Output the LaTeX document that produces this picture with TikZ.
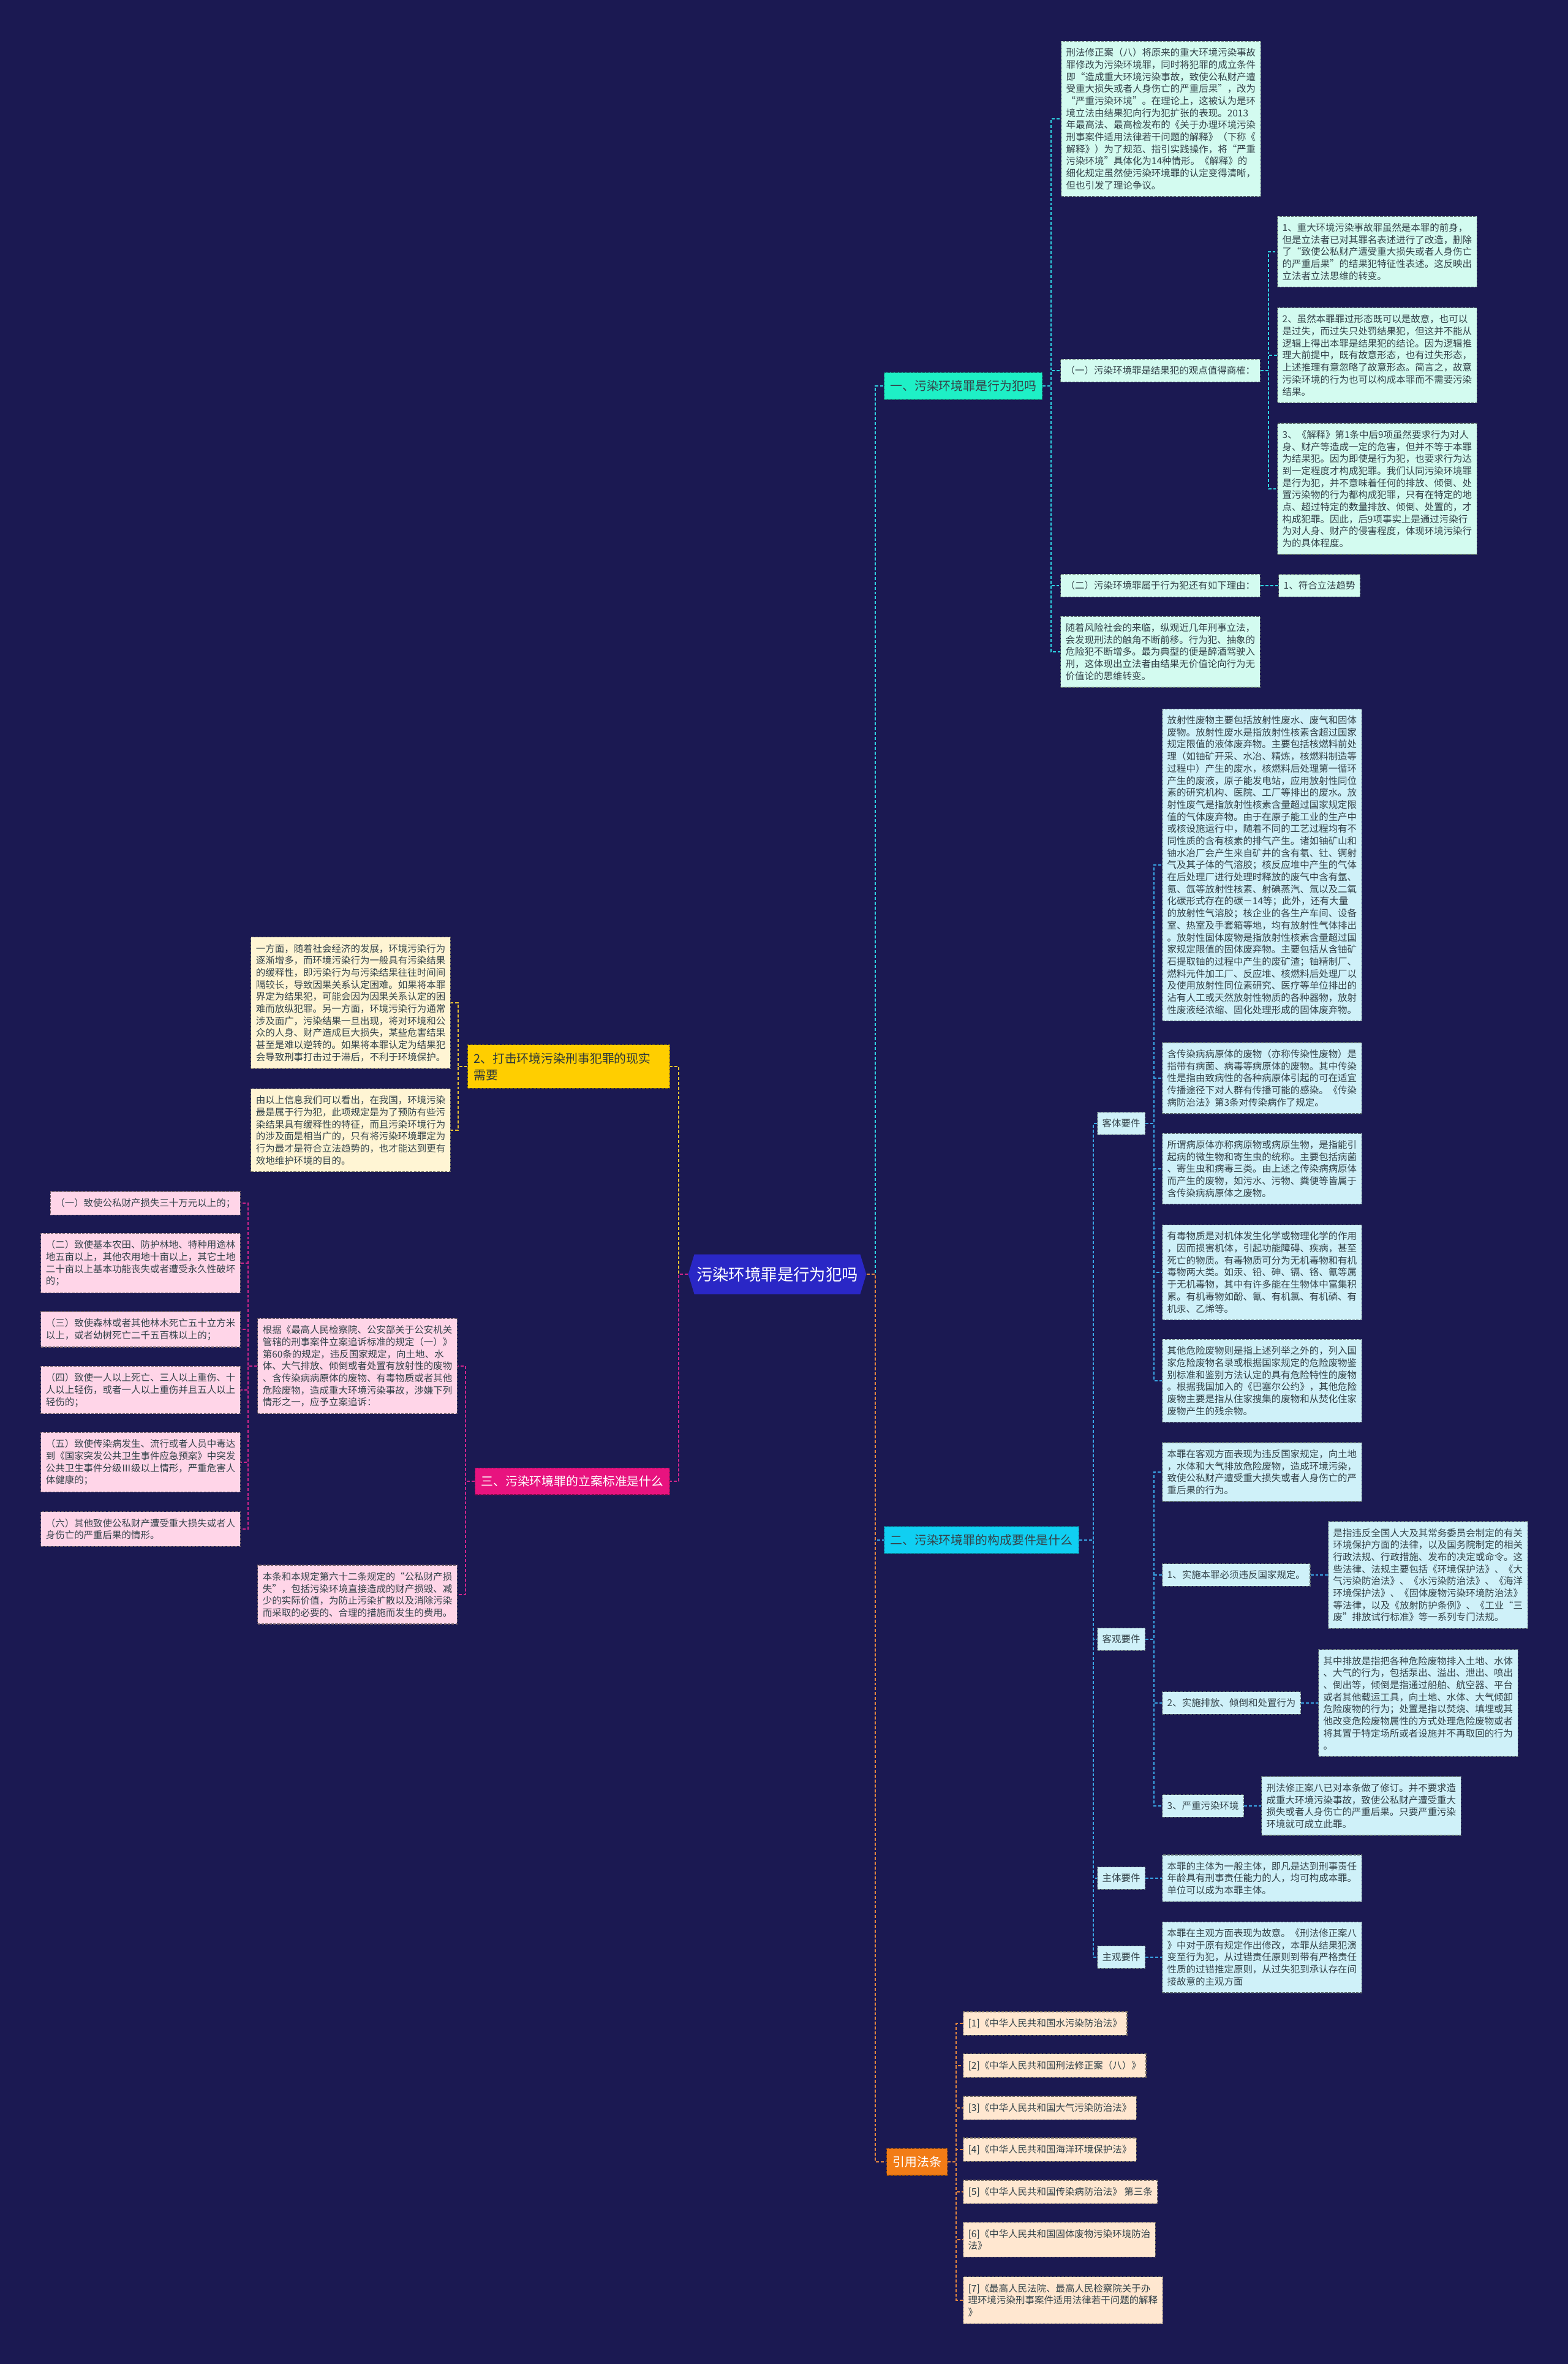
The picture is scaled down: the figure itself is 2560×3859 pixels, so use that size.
\documentclass[tikz,border=0pt]{standalone}
\usepackage{fontspec}
\setmainfont{Noto Sans CJK SC}
\usetikzlibrary{backgrounds,calc,positioning,shapes.symbols}
\definecolor{navy}{HTML}{1B1952}
\definecolor{ink}{HTML}{34434A}
\definecolor{rootblue}{HTML}{2A27C6}
\definecolor{onecolor}{HTML}{1EF0C6}
\definecolor{twocolor}{HTML}{10CFF2}
\definecolor{needcolor}{HTML}{FFCE00}
\definecolor{threecolor}{HTML}{E8137F}
\definecolor{refcolor}{HTML}{F27C16}
\definecolor{mint}{HTML}{D3FBF0}
\definecolor{icy}{HTML}{CFF1F9}
\definecolor{cream}{HTML}{FFF5D4}
\definecolor{blush}{HTML}{FFD5E8}
\definecolor{peach}{HTML}{FFE7D0}
\definecolor{lineone}{HTML}{2FD3E2}
\definecolor{linetwo}{HTML}{3AA6E6}
\definecolor{lineneed}{HTML}{EEC431}
\definecolor{linethree}{HTML}{D0258C}
\definecolor{lineref}{HTML}{E6873E}
\newcommand{\bodyfont}{\fontsize{4.4pt}{5.6pt}\selectfont}
\newcommand{\headfont}{\fontsize{5.65pt}{7.6pt}\selectfont}
\newcommand{\rootfont}{\fontsize{7.5pt}{9pt}\selectfont}
\tikzset{
  box/.style={
    draw,
    dash pattern=on 1.2pt off 0.6pt,
    line width=0.35pt,
    align=left,
    text=ink,
    inner xsep=2.3pt,
    inner ysep=3.2pt,
    font=\bodyfont
  },
  mintbox/.style={box,fill=mint,draw=mint!45!black},
  icybox/.style={box,fill=icy,draw=icy!45!black},
  creambox/.style={box,fill=cream,draw=cream!45!black},
  blushbox/.style={box,fill=blush,draw=blush!45!black},
  peachbox/.style={box,fill=peach,draw=peach!45!black},
  head/.style={
    box,
    font=\headfont,
    inner xsep=2.8pt,
    inner ysep=3.6pt
  },
  headone/.style={head,fill=onecolor,draw=onecolor!60!black,text=ink},
  headtwo/.style={head,fill=twocolor,draw=twocolor!60!black,text=ink},
  headneed/.style={head,fill=needcolor,draw=needcolor!60!black,text=ink!80!black,
    text width=3.1cm},
  headthree/.style={head,fill=threecolor,draw=threecolor!60!black,text=white},
  headrefs/.style={head,fill=refcolor,draw=refcolor!60!black,text=white},
  rootnode/.style={
    shape=signal,
    signal to=east and west,
    signal pointer angle=146,
    fill=rootblue,
    text=white,
    font=\rootfont,
    minimum height=0.65cm,
    inner xsep=1pt
  },
  link/.style={
    line width=0.57pt,
    dash pattern=on 1.4pt off 0.85pt
  },
  linkone/.style={link,draw=lineone},
  linktwo/.style={link,draw=linetwo},
  linkneed/.style={link,draw=lineneed},
  linkthree/.style={link,draw=linethree},
  linkref/.style={link,draw=lineref}
}

\begin{document}
\begin{tikzpicture}[x=0.01cm,y=-0.01cm]
  \useasboundingbox (0,0) rectangle (2560,3859);

  \node[rootnode] (root) at (1269,2080) {污染环境罪是行为犯吗};

  % Branch one: offence of conduct or of result.
  \node[headone,anchor=west] (one) at (1443,630) {一、污染环境罪是行为犯吗};

  \node[mintbox,anchor=west] (intro) at (1732,194)
    {刑法修正案（八）将原来的重大环境污染事故\\罪修改为污染环境罪，同时将犯罪的成立条件\\即“造成重大环境污染事故，致使公私财产遭\\受重大损失或者人身伤亡的严重后果”，改为\\“严重污染环境”。在理论上，这被认为是环\\境立法由结果犯向行为犯扩张的表现。2013\\年最高法、最高检发布的《关于办理环境污染\\刑事案件适用法律若干问题的解释》（下称《\\解释》）为了规范、指引实践操作，将“严重\\污染环境”具体化为14种情形。《解释》的\\细化规定虽然使污染环境罪的认定变得清晰，\\但也引发了理论争议。};

  \node[mintbox,anchor=west] (doubt) at (1731,605)
    {（一）污染环境罪是结果犯的观点值得商榷：};

  \node[mintbox,anchor=west] (doubta) at (2085,411)
    {1、重大环境污染事故罪虽然是本罪的前身，\\但是立法者已对其罪名表述进行了改造，删除\\了“致使公私财产遭受重大损失或者人身伤亡\\的严重后果”的结果犯特征性表述。这反映出\\立法者立法思维的转变。};

  \node[mintbox,anchor=west] (doubtb) at (2085,580)
    {2、虽然本罪罪过形态既可以是故意，也可以\\是过失，而过失只处罚结果犯，但这并不能从\\逻辑上得出本罪是结果犯的结论。因为逻辑推\\理大前提中，既有故意形态，也有过失形态，\\上述推理有意忽略了故意形态。简言之，故意\\污染环境的行为也可以构成本罪而不需要污染\\结果。};

  \node[mintbox,anchor=west] (doubtc) at (2085,798)
    {3、《解释》第1条中后9项虽然要求行为对人\\身、财产等造成一定的危害，但并不等于本罪\\为结果犯。因为即使是行为犯，也要求行为达\\到一定程度才构成犯罪。我们认同污染环境罪\\是行为犯，并不意味着任何的排放、倾倒、处\\置污染物的行为都构成犯罪，只有在特定的地\\点、超过特定的数量排放、倾倒、处置的，才\\构成犯罪。因此，后9项事实上是通过污染行\\为对人身、财产的侵害程度，体现环境污染行\\为的具体程度。};

  \node[mintbox,anchor=west] (reason) at (1731,956)
    {（二）污染环境罪属于行为犯还有如下理由：};

  \node[mintbox,anchor=west] (trend) at (2087,956) {1、符合立法趋势};

  \node[mintbox,anchor=west] (risk) at (1731,1064)
    {随着风险社会的来临，纵观近几年刑事立法，\\会发现刑法的触角不断前移。行为犯、抽象的\\危险犯不断增多。最为典型的便是醉酒驾驶入\\刑，这体现出立法者由结果无价值论向行为无\\价值论的思维转变。};

  % Branch two: elements of the offence.
  \node[headtwo,anchor=west] (two) at (1443,2514) {二、污染环境罪的构成要件是什么};

  \node[icybox,anchor=west] (object) at (1791,1834) {客体要件};

  \node[icybox,anchor=west] (objecta) at (1897,1412)
    {放射性废物主要包括放射性废水、废气和固体\\废物。放射性废水是指放射性核素含超过国家\\规定限值的液体废弃物。主要包括核燃料前处\\理（如铀矿开采、水冶、精炼，核燃料制造等\\过程中）产生的废水，核燃料后处理第一循环\\产生的废液，原子能发电站，应用放射性同位\\素的研究机构、医院、工厂等排出的废水。放\\射性废气是指放射性核素含量超过国家规定限\\值的气体废弃物。由于在原子能工业的生产中\\或核设施运行中，随着不同的工艺过程均有不\\同性质的含有核素的排气产生。诸如铀矿山和\\铀水冶厂会产生来自矿井的含有氡、钍、锕射\\气及其子体的气溶胶；核反应堆中产生的气体\\在后处理厂进行处理时释放的废气中含有氩、\\氪、氙等放射性核素、射碘蒸汽、氚以及二氧\\化碳形式存在的碳－14等；此外，还有大量\\的放射性气溶胶；核企业的各生产车间、设备\\室、热室及手套箱等地，均有放射性气体排出\\。放射性固体废物是指放射性核素含量超过国\\家规定限值的固体废弃物。主要包括从含铀矿\\石提取铀的过程中产生的废矿渣；铀精制厂、\\燃料元件加工厂、反应堆、核燃料后处理厂以\\及使用放射性同位素研究、医疗等单位排出的\\沾有人工或天然放射性物质的各种器物，放射\\性废液经浓缩、固化处理形成的固体废弃物。};

  \node[icybox,anchor=west] (objectb) at (1897,1760)
    {含传染病病原体的废物（亦称传染性废物）是\\指带有病菌、病毒等病原体的废物。其中传染\\性是指由致病性的各种病原体引起的可在适宜\\传播途径下对人群有传播可能的感染。《传染\\病防治法》第3条对传染病作了规定。};

  \node[icybox,anchor=west] (objectc) at (1897,1908)
    {所谓病原体亦称病原物或病原生物，是指能引\\起病的微生物和寄生虫的统称。主要包括病菌\\、寄生虫和病毒三类。由上述之传染病病原体\\而产生的废物，如污水、污物、粪便等皆属于\\含传染病病原体之废物。};

  \node[icybox,anchor=west] (objectd) at (1897,2077)
    {有毒物质是对机体发生化学或物理化学的作用\\，因而损害机体，引起功能障碍、疾病，甚至\\死亡的物质。有毒物质可分为无机毒物和有机\\毒物两大类。如汞、铅、砷、镉、铬、氰等属\\于无机毒物，其中有许多能在生物体中富集积\\累。有机毒物如酚、氰、有机氯、有机磷、有\\机汞、乙烯等。};

  \node[icybox,anchor=west] (objecte) at (1897,2254)
    {其他危险废物则是指上述列举之外的，列入国\\家危险废物名录或根据国家规定的危险废物鉴\\别标准和鉴别方法认定的具有危险特性的废物\\。根据我国加入的《巴塞尔公约》，其他危险\\废物主要是指从住家搜集的废物和从焚化住家\\废物产生的残余物。};

  \node[icybox,anchor=west] (conduct) at (1791,2676) {客观要件};

  \node[icybox,anchor=west] (conducta) at (1897,2403)
    {本罪在客观方面表现为违反国家规定，向土地\\，水体和大气排放危险废物，造成环境污染，\\致使公私财产遭受重大损失或者人身伤亡的严\\重后果的行为。};

  \node[icybox,anchor=west] (rulebreak) at (1897,2571) {1、实施本罪必须违反国家规定。};
  \node[icybox,anchor=west] (rulebreakd) at (2168,2571)
    {是指违反全国人大及其常务委员会制定的有关\\环境保护方面的法律，以及国务院制定的相关\\行政法规、行政措施、发布的决定或命令。这\\些法律、法规主要包括《环境保护法》、《大\\气污染防治法》、《水污染防治法》、《海洋\\环境保护法》、《固体废物污染环境防治法》\\等法律，以及《放射防护条例》、《工业“三\\废”排放试行标准》等一系列专门法规。};

  \node[icybox,anchor=west] (discharge) at (1897,2780) {2、实施排放、倾倒和处置行为};
  \node[icybox,anchor=west] (discharged) at (2152,2780)
    {其中排放是指把各种危险废物排入土地、水体\\、大气的行为，包括泵出、溢出、泄出、喷出\\、倒出等，倾倒是指通过船舶、航空器、平台\\或者其他载运工具，向土地、水体、大气倾卸\\危险废物的行为；处置是指以焚烧、填埋或其\\他改变危险废物属性的方式处理危险废物或者\\将其置于特定场所或者设施并不再取回的行为\\。};

  \node[icybox,anchor=west] (severe) at (1897,2948) {3、严重污染环境};
  \node[icybox,anchor=west] (severed) at (2059,2948)
    {刑法修正案八已对本条做了修订。并不要求造\\成重大环境污染事故，致使公私财产遭受重大\\损失或者人身伤亡的严重后果。只要严重污染\\环境就可成立此罪。};

  \node[icybox,anchor=west] (subject) at (1791,3066) {主体要件};
  \node[icybox,anchor=west] (subjectd) at (1897,3066)
    {本罪的主体为一般主体，即凡是达到刑事责任\\年龄具有刑事责任能力的人，均可构成本罪。\\单位可以成为本罪主体。};

  \node[icybox,anchor=west] (intent) at (1791,3195) {主观要件};
  \node[icybox,anchor=west] (intentd) at (1897,3195)
    {本罪在主观方面表现为故意。《刑法修正案八\\》中对于原有规定作出修改，本罪从结果犯演\\变至行为犯，从过错责任原则到带有严格责任\\性质的过错推定原则，从过失犯到承认存在间\\接故意的主观方面};

  % Cited statutes.
  \node[headrefs,anchor=west] (refs) at (1447,3529) {引用法条};
  \node[peachbox,anchor=west] (refa) at (1572,3303) {[1]《中华人民共和国水污染防治法》};
  \node[peachbox,anchor=west] (refb) at (1572,3372) {[2]《中华人民共和国刑法修正案（八）》};
  \node[peachbox,anchor=west] (refc) at (1572,3441) {[3]《中华人民共和国大气污染防治法》};
  \node[peachbox,anchor=west] (refd) at (1572,3509) {[4]《中华人民共和国海洋环境保护法》};
  \node[peachbox,anchor=west] (refe) at (1572,3578) {[5]《中华人民共和国传染病防治法》 第三条};
  \node[peachbox,anchor=west] (reff) at (1572,3656)
    {[6]《中华人民共和国固体废物污染环境防治\\法》};
  \node[peachbox,anchor=west] (refg) at (1572,3755)
    {[7]《最高人民法院、最高人民检察院关于办\\理环境污染刑事案件适用法律若干问题的解释\\》};

  % Left side: practical need.
  \node[headneed,anchor=east] (need) at (1094,1741) {2、打击环境污染刑事犯罪的现实\\需要};

  \node[creambox,anchor=east] (needa) at (736,1637)
    {一方面，随着社会经济的发展，环境污染行为\\逐渐增多，而环境污染行为一般具有污染结果\\的缓释性，即污染行为与污染结果往往时间间\\隔较长，导致因果关系认定困难。如果将本罪\\界定为结果犯，可能会因为因果关系认定的困\\难而放纵犯罪。另一方面，环境污染行为通常\\涉及面广，污染结果一旦出现，将对环境和公\\众的人身、财产造成巨大损失，某些危害结果\\甚至是难以逆转的。如果将本罪认定为结果犯\\会导致刑事打击过于滞后，不利于环境保护。};

  \node[creambox,anchor=east] (needb) at (736,1845)
    {由以上信息我们可以看出，在我国，环境污染\\最是属于行为犯，此项规定是为了预防有些污\\染结果具有缓释性的特征，而且污染环境行为\\的涉及面是相当广的，只有将污染环境罪定为\\行为最才是符合立法趋势的，也才能达到更有\\效地维护环境的目的。};

  % Left side: filing standard.
  \node[headthree,anchor=east] (three) at (1094,2418) {三、污染环境罪的立案标准是什么};

  \node[blushbox,anchor=east] (rule) at (747,2230)
    {根据《最高人民检察院、公安部关于公安机关\\管辖的刑事案件立案追诉标准的规定（一）》\\第60条的规定，违反国家规定，向土地、水\\体、大气排放、倾倒或者处置有放射性的废物\\、含传染病病原体的废物、有毒物质或者其他\\危险废物，造成重大环境污染事故，涉嫌下列\\情形之一，应予立案追诉：};

  \node[blushbox,anchor=east] (rulea) at (393,1964) {（一）致使公私财产损失三十万元以上的；};
  \node[blushbox,anchor=east] (ruleb) at (393,2062)
    {（二）致使基本农田、防护林地、特种用途林\\地五亩以上，其他农用地十亩以上，其它土地\\二十亩以上基本功能丧失或者遭受永久性破坏\\的；};
  \node[blushbox,anchor=east] (rulec) at (393,2170)
    {（三）致使森林或者其他林木死亡五十立方米\\以上，或者幼树死亡二千五百株以上的；};
  \node[blushbox,anchor=east] (ruled) at (393,2269)
    {（四）致使一人以上死亡、三人以上重伤、十\\人以上轻伤，或者一人以上重伤并且五人以上\\轻伤的；};
  \node[blushbox,anchor=east] (rulee) at (393,2387)
    {（五）致使传染病发生、流行或者人员中毒达\\到《国家突发公共卫生事件应急预案》中突发\\公共卫生事件分级Ⅲ级以上情形，严重危害人\\体健康的；};
  \node[blushbox,anchor=east] (rulef) at (393,2496)
    {（六）其他致使公私财产遭受重大损失或者人\\身伤亡的严重后果的情形。};

  \node[blushbox,anchor=east] (loss) at (747,2603)
    {本条和本规定第六十二条规定的“公私财产损\\失”，包括污染环境直接造成的财产损毁、减\\少的实际价值，为防止污染扩散以及消除污染\\而采取的必要的、合理的措施而发生的费用。};

  % Connectors go behind everything, on top of the page fill.
  \begin{scope}[on background layer]
    \fill[navy] (0,0) rectangle (2560,3859);

    \draw[linkneed] (root.west) -- ++(-15,0) |- (need.east);
    \draw[linkthree] (root.west) -- ++(-15,0) |- (three.east);
    \draw[linkone] (root.east) -- ++(14,0) |- (one.west);
    \draw[linktwo] (root.east) -- ++(14,0) |- (two.west);
    \draw[linkref] (root.east) -- ++(14,0) |- (refs.west);

    \draw[linkone] (one.east) -- ++(14,0) |- (intro.west);
    \draw[linkone] (one.east) -- ++(14,0) |- (doubt.west);
    \draw[linkone] (one.east) -- ++(14,0) |- (reason.west);
    \draw[linkone] (one.east) -- ++(14,0) |- (risk.west);
    \draw[linkone] (doubt.east) -- ++(13,0) |- (doubta.west);
    \draw[linkone] (doubt.east) -- ++(13,0) |- (doubtb.west);
    \draw[linkone] (doubt.east) -- ++(13,0) |- (doubtc.west);
    \draw[linkone] (reason.east) -- (trend.west);

    \draw[linktwo] (two.east) -- ++(23,0) |- (object.west);
    \draw[linktwo] (two.east) -- ++(23,0) |- (conduct.west);
    \draw[linktwo] (two.east) -- ++(23,0) |- (subject.west);
    \draw[linktwo] (two.east) -- ++(23,0) |- (intent.west);
    \draw[linktwo] (object.east) -- ++(14,0) |- (objecta.west);
    \draw[linktwo] (object.east) -- ++(14,0) |- (objectb.west);
    \draw[linktwo] (object.east) -- ++(14,0) |- (objectc.west);
    \draw[linktwo] (object.east) -- ++(14,0) |- (objectd.west);
    \draw[linktwo] (object.east) -- ++(14,0) |- (objecte.west);
    \draw[linktwo] (conduct.east) -- ++(14,0) |- (conducta.west);
    \draw[linktwo] (conduct.east) -- ++(14,0) |- (rulebreak.west);
    \draw[linktwo] (conduct.east) -- ++(14,0) |- (discharge.west);
    \draw[linktwo] (conduct.east) -- ++(14,0) |- (severe.west);
    \draw[linktwo] (rulebreak.east) -- (rulebreakd.west);
    \draw[linktwo] (discharge.east) -- (discharged.west);
    \draw[linktwo] (severe.east) -- (severed.west);
    \draw[linktwo] (subject.east) -- (subjectd.west);
    \draw[linktwo] (intent.east) -- (intentd.west);

    \draw[linkref] (refs.east) -- ++(14,0) |- (refa.west);
    \draw[linkref] (refs.east) -- ++(14,0) |- (refb.west);
    \draw[linkref] (refs.east) -- ++(14,0) |- (refc.west);
    \draw[linkref] (refs.east) -- ++(14,0) |- (refd.west);
    \draw[linkref] (refs.east) -- ++(14,0) |- (refe.west);
    \draw[linkref] (refs.east) -- ++(14,0) |- (reff.west);
    \draw[linkref] (refs.east) -- ++(14,0) |- (refg.west);

    \draw[linkneed] (need.west) -- ++(-15,0) |- (needa.east);
    \draw[linkneed] (need.west) -- ++(-15,0) |- (needb.east);

    \draw[linkthree] (three.west) -- ++(-15,0) |- (rule.east);
    \draw[linkthree] (three.west) -- ++(-15,0) |- (loss.east);
    \draw[linkthree] (rule.west) -- ++(-15,0) |- (rulea.east);
    \draw[linkthree] (rule.west) -- ++(-15,0) |- (ruleb.east);
    \draw[linkthree] (rule.west) -- ++(-15,0) |- (rulec.east);
    \draw[linkthree] (rule.west) -- ++(-15,0) |- (ruled.east);
    \draw[linkthree] (rule.west) -- ++(-15,0) |- (rulee.east);
    \draw[linkthree] (rule.west) -- ++(-15,0) |- (rulef.east);
  \end{scope}

\end{tikzpicture}
\end{document}
